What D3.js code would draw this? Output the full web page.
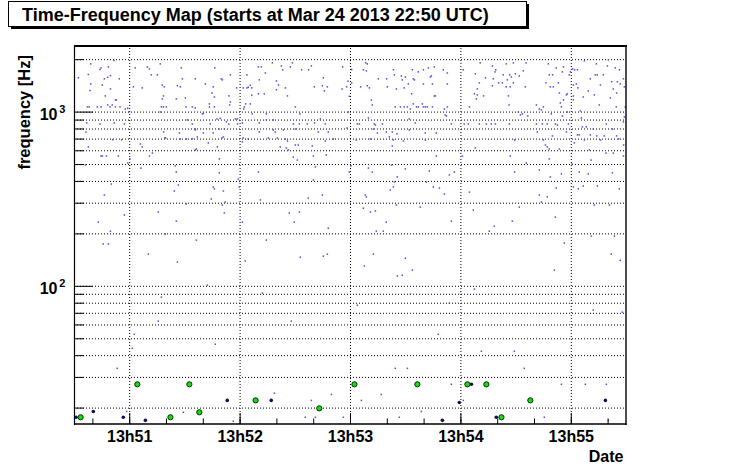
<!DOCTYPE html>
<html><head><meta charset="utf-8">
<script src="https://cdn.jsdelivr.net/npm/d3@7"></script>
<style>
body{margin:0;background:#fff;}
svg{display:block;font-family:"Liberation Sans",Arial,Helvetica,sans-serif;font-weight:bold;}
</style>
</head><body>
<svg id="c" width="746" height="472"></svg>
<script>
// ---------------- data ----------------
const chartTitle = "Time-Frequency Map (starts at Mar 24 2013 22:50 UTC)";
const yTitle = "frequency [Hz]";
const xTitle = "Date";
const baseUTC = Date.UTC(2013, 2, 24, 13, 50, 0);   // times below are seconds after 13:50:00
const timeRange = [30, 330];
const freqRange = [16.1, 2380];
const yTickValues = [20,30,40,50,60,70,80,90,100,200,300,400,500,600,700,800,900,1000,2000];
const yLabelValues = [100, 1000];

// small triggers: [seconds, Hz]
const bgPoints = [
[39.1,1879],[32.4,1563],[37.8,1633],[44.1,1745],[44.7,1783],[46.5,1542],[48.7,1805],[48.3,1574],[49.8,1610],[51.7,1964],
[54.6,1542],[39.1,1442],[45.4,1422],[38.7,1321],[49.8,1349],[47.0,1230],[52.5,1167],[53.0,1167],[37.3,1064],[38.3,1064],
[42.7,1064],[44.7,1064],[48.3,1092],[49.6,1064],[50.8,1092],[52.5,1064],[55.0,1064],[57.9,1035],[59.2,1045],[59.7,991],
[36.9,861],[44.1,849],[51.9,861],[57.4,849],[36.5,764],[51.0,690],[55.9,690],[37.8,627],[44.7,556],[45.4,556],
[47.6,556],[54.1,556],[36.2,494],[60.4,535],[59.2,507],[66.1,652],[67.1,627],[71.0,556],[72.6,578],[66.4,474],
[50.3,384],[63.3,1783],[69.9,1805],[71.0,1759],[72.0,1626],[75.3,1626],[76.9,1879],[62.3,1387],[67.1,1368],[78.0,1422],
[79.1,1387],[78.6,1230],[78.0,1183],[77.5,1064],[78.6,1064],[80.2,1064],[76.9,995],[86.2,1406],[87.8,1387],[85.6,1183],
[90.5,1199],[88.9,1542],[88.3,1783],[95.9,1542],[101.4,1442],[105.7,1387],[105.0,1279],[106.3,1213],[106.5,1783],[110.1,1542],
[110.6,1521],[115.0,1626],[114.2,1230],[115.0,1137],[114.6,1092],[90.9,1064],[94.3,1064],[95.9,1050],[103.6,1107],[103.6,1064],
[106.3,1064],[99.8,970],[100.3,977],[91.6,896],[94.3,849],[95.9,794],[104.1,849],[107.7,908],[109.5,915],[112.8,873],
[114.1,849],[117.7,908],[118.8,908],[118.9,849],[78.7,764],[87.3,754],[95.9,785],[100.3,754],[105.7,754],[108.8,794],
[111.7,794],[79.3,706],[79.8,706],[87.8,697],[91.1,697],[94.3,697],[97.0,715],[103.0,661],[107.9,627],[110.4,706],
[111.2,715],[96.5,610],[95.9,603],[85.1,488],[85.6,450],[109.0,535],[109.0,445],[105.7,369],[106.3,360],[86.7,379],
[119.3,410],[119.9,369],[118.4,1368],[122.0,1368],[124.0,1368],[124.7,1380],[125.8,1416],[126.6,1368],[124.0,1626],[130.2,1805],
[131.8,1805],[134.0,1667],[137.8,1905],[142.7,1829],[143.4,1738],[147.6,1805],[148.7,1905],[153.7,1738],[157.5,1738],[159.0,1829],
[130.7,1521],[126.6,1241],[130.2,1265],[133.4,1265],[140.0,1500],[141.1,1422],[140.0,1334],[144.9,1368],[146.0,1230],[160.6,1387],
[165.0,1406],[166.1,1315],[167.7,1387],[165.5,1563],[123.3,1107],[122.6,1064],[125.8,1107],[122.2,1035],[126.9,970],[134.5,970],
[150.3,1064],[152.8,970],[121.5,861],[130.7,861],[134.5,896],[138.3,896],[149.2,849],[152.5,849],[156.8,849],[160.8,861],
[163.9,908],[166.6,849],[130.7,764],[138.3,785],[139.4,764],[143.8,785],[150.3,794],[162.8,764],[168.2,764],[122.0,706],
[124.7,697],[121.5,670],[135.6,706],[140.5,706],[144.9,697],[146.0,678],[150.3,643],[151.9,643],[159.5,635],[166.6,678],
[171.0,697],[142.1,627],[145.4,618],[146.5,603],[149.2,548],[151.4,527],[160.1,556],[167.1,564],[130.2,450],[161.2,481],
[160.1,405],
[176.0,1805],[175.7,1349],[178.2,1387],[178.9,1494],[180.9,1745],[180.9,1462],[179.6,1225],[188.5,1905],[189.4,1879],[187.3,1738],
[188.9,1714],[185.8,1387],[189.4,1406],[190.5,1368],[191.6,1163],[192.1,1092],[195.4,1542],[199.9,1542],[200.3,1387],[203.6,1738],
[204.1,1626],[205.2,1349],[207.9,1603],[208.4,1521],[209.5,1368],[210.1,1581],[211.7,1442],[213.9,1738],[214.4,1542],[215.0,1521],
[217.1,1690],[219.9,1738],[219.9,1442],[222.6,1783],[223.7,1581],[224.8,1442],[225.8,1805],[224.2,1603],[225.8,1230],[226.4,1230],
[230.7,1738],[232.9,1667],[232.9,1442],[204.6,1064],[207.4,1064],[209.5,1064],[211.2,1064],[212.8,1035],[214.4,1107],[216.1,1064],
[217.1,1064],[219.3,1107],[219.9,1064],[220.9,1064],[222.0,1064],[224.8,1064],[231.3,1035],[232.9,1064],[231.8,957],[232.4,944],
[213.5,1265],[179.1,995],[178.4,805],[184.0,849],[185.1,849],[190.0,920],[193.2,849],[193.8,838],[192.7,794],[197.6,849],
[212.2,908],[215.5,861],[194.9,754],[199.7,764],[203.0,764],[205.5,745],[212.2,785],[220.9,754],[226.9,754],[235.1,849],
[183.4,687],[191.1,697],[201.4,715],[203.6,687],[203.0,635],[209.0,678],[220.9,687],[226.9,556],[180.5,488],[179.6,449],
[190.0,474],[192.1,450],[202.6,494],[205.7,422],[210.1,469],[223.1,456],[236.7,450],[234.0,433],[204.1,394],[203.6,369],
[201.9,355],[221.5,394],[225.3,369],[228.6,364],[241.6,1738],[248.1,1648],[250.8,1905],[253.6,1563],[257.4,1829],[257.9,1542],
[259.2,1738],[258.8,1690],[260.8,1462],[263.3,1626],[264.9,1879],[265.5,1521],[266.8,1626],[268.8,1905],[267.7,1581],[269.9,1648],
[268.8,1462],[272.0,1603],[274.2,1714],[275.7,1905],[275.3,1387],[266.1,1230],[266.4,1092],[250.3,1462],[249.2,1349],[247.6,1265],
[249.2,1247],[248.7,1183],[252.6,1230],[257.4,1406],[262.8,1462],[264.9,1387],[267.1,1387],[281.3,1092],[282.9,1035],[284.0,1023],
[285.1,1064],[286.5,1462],[287.8,1879],[288.3,1626],[290.1,1626],[288.9,1387],[290.5,1387],[292.1,1783],[293.2,1462],[293.8,1279],
[294.3,1122],[296.0,1805],[295.4,1690],[296.0,1167],[294.9,1064],[297.6,1247],[298.1,1265],[299.2,1626],[244.9,1064],[271.5,995],
[272.6,957],[273.7,970],[276.6,944],[289.4,970],[295.4,944],[298.1,995],[242.1,849],[244.3,849],[250.3,849],[254.1,849],
[256.8,849],[259.0,849],[266.6,849],[281.3,849],[284.5,849],[287.2,849],[291.6,849],[292.7,838],[298.7,849],[269.5,687],
[285.1,687],[290.0,725],[281.8,764],[297.6,764],[248.1,618],[241.1,556],[267.1,556],[286.2,643],[287.2,627],[288.3,610],
[293.8,610],[288.3,535],[275.8,507],[269.5,450],[282.9,462],[288.9,422],[294.9,439],[292.1,364],[299.8,1690],[301.0,1759],
[302.1,1738],[303.6,1738],[307.4,1955],[301.4,1422],[303.0,1442],[303.9,1368],[301.4,1230],[301.4,1167],[306.8,1213],[309.5,1315],
[310.6,1542],[312.8,1247],[313.9,1879],[313.3,1626],[314.4,1626],[316.1,1422],[317.7,1626],[319.9,1829],[320.4,1982],[324.2,1783],
[326.4,1738],[322.2,1483],[323.1,1349],[325.3,1483],[324.9,1279],[326.9,1442],[328.6,1542],[329.1,1387],[321.5,1199],[315.5,1092],
[324.7,1064],[329.6,1064],[305.2,1009],[305.7,920],[306.3,817],[308.4,817],[312.2,794],[319.3,849],[322.7,794],[328.6,873],
[329.1,931],[303.6,735],[304.6,735],[307.4,687],[310.6,735],[314.1,725],[316.1,687],[318.2,725],[324.9,725],[326.0,697],
[301.9,661],[310.1,603],[319.1,578],[323.1,578],[328.7,643],[328.6,556],[311.0,527],[300.7,500],[304.6,450],[309.5,439],
[322.6,445],[301.4,369],[304.1,360],[306.8,374],[314.4,374],[326.4,360],
[46.5,332],[84.5,350],[104.6,315],[111.2,350],[110.6,291],[112.2,303],[111.7,262],[91.0,295],[75.8,265],[85.6,235],
[57.4,255],[43.2,232],[49.8,206],[45.9,174],[48.7,174],[70.4,152],[86.2,137],[96.5,183],[79.6,198],[131.3,311],
[157.3,319],[165.0,332],[147.0,262],[152.5,265],[149.7,232],[121.5,232],[168.2,214],[134.5,183],[123.1,139],[153.0,146],
[165.5,148],[167.7,152],[102.5,101],[132.4,90.8],[77.5,86.1],[75.8,62.7],[148.1,62.7],[62.8,52.7],[61.7,43.8],[106.8,46.2],
[188.3,332],[188.9,324],[231.3,336],[244.9,345],[282.9,332],[287.2,324],[284.0,303],[187.3,279],[191.1,265],[193.8,269],
[205.2,291],[218.2,283],[199.7,232],[235.1,235],[194.3,206],[198.1,206],[247.0,272],[272.0,283],[258.4,220],[268.2,235],
[255.7,206],[291.6,248],[192.7,152],[187.8,130],[210.1,144],[213.9,123],[205.7,114],[208.4,115],[296.5,176],[291.1,123],
[312.8,291],[321.0,291],[311.2,193],[323.7,193],[322.0,152],[326.9,140],[247.6,95.7],[212.8,89.6],[184.0,77.4],[234.0,79.5],
[312.2,72.5],[328.0,70.6],[228.0,52.7],[251.4,42.1],[269.3,42.1],
[53.5,33.6],[58.6,19.0],[89.4,18.8],[116.6,16.7],[138.9,24.2],[155.7,17.6],[159.0,22.0],[161.2,17.6],[169.9,23.8],[176.4,17.6],
[204.6,33.6],[211.2,33.6],[274.7,33.6],[186.2,22.0],[197.0,23.8],[206.8,17.6],[218.8,19.0],[235.1,27.2],[241.6,22.0],[285.6,17.6],
[294.9,27.2],[307.9,27.2],[319.3,27.2],[320.4,16.9]
];

// medium triggers (dark dots): [seconds, Hz]
const navyPoints = [
[31.1,17.6],[40.5,19.0],[56.8,17.6],[68.8,16.9],[113.3,22.0],[137.2,22.0],
[239.4,21.4],[230.2,16.9],[246.0,27.2],[259.5,17.6],[318.8,22.0]
];

// loud triggers (green circles): [seconds, Hz]
const greenPoints = [
[33.6,17.6],[64.4,27.2],[92.7,27.2],[82.4,17.6],[98.1,18.8],[128.7,22.0],[163.3,19.8],
[182.4,27.2],[216.6,27.2],[243.8,27.2],[254.1,27.2],[262.3,17.6],[278.0,22.0]
];

// ---------------- drawing ----------------
const svg = d3.select("#c");
const L = 74, R = 626, T = 46, B = 424;
const toDate = s => new Date(baseUTC + s * 1000);

const x = d3.scaleUtc().domain(timeRange.map(toDate)).range([L, R]);
const y = d3.scaleLog().domain(freqRange).range([B, T]);

// grid
const gridY = svg.append("g").attr("transform", `translate(${L},0)`)
  .call(d3.axisLeft(y).tickValues(yTickValues).tickSize(-(R - L)).tickFormat(""));
gridY.select(".domain").remove();
gridY.selectAll("line").attr("stroke", "#000").attr("stroke-dasharray", "1,2");

const minuteTicks = x.ticks(d3.utcMinute.every(1));
const gridX = svg.append("g").attr("transform", `translate(0,${B})`)
  .call(d3.axisBottom(x).tickValues(minuteTicks).tickSize(-(B - T)).tickFormat(""));
gridX.select(".domain").remove();
gridX.selectAll("line").attr("stroke", "#000").attr("stroke-dasharray", "1,2");

// points
const plot = svg.append("g");
plot.selectAll("rect.bg").data(bgPoints).join("rect").attr("class", "bg")
  .attr("x", d => x(toDate(d[0])) - 0.75).attr("y", d => y(d[1]) - 0.75)
  .attr("width", 1.5).attr("height", 1.5).attr("fill", "#5a48e0");
plot.selectAll("circle.nv").data(navyPoints).join("circle").attr("class", "nv")
  .attr("cx", d => x(toDate(d[0]))).attr("cy", d => y(d[1])).attr("r", 1.8)
  .attr("fill", "#10105a");
plot.selectAll("circle.gr").data(greenPoints).join("circle").attr("class", "gr")
  .attr("cx", d => x(toDate(d[0]))).attr("cy", d => y(d[1])).attr("r", 2.6)
  .attr("fill", "#10e010").attr("stroke", "#003000").attr("stroke-width", 1);

// x ticks (minor, major) pointing up
const xMinor = svg.append("g").attr("transform", `translate(0,${B})`)
  .call(d3.axisBottom(x).ticks(d3.utcSecond.every(20)).tickSize(-5.5).tickSizeOuter(0).tickFormat(""));
xMinor.select(".domain").remove();
const xMajor = svg.append("g").attr("transform", `translate(0,${B})`)
  .call(d3.axisBottom(x).tickValues(minuteTicks).tickSize(-11).tickSizeOuter(0)
        .tickFormat(d3.utcFormat("%Hh%M")));
xMajor.select(".domain").remove();
xMajor.attr("font-family", null).attr("font-size", null);
xMajor.selectAll("text").attr("y", 17.7).attr("dy", null)
  .style("font-size", "16px").style("font-weight", "bold").attr("fill", "#000");

// y ticks pointing right
const yAx = svg.append("g").attr("transform", `translate(${L},0)`)
  .call(d3.axisLeft(y).tickValues(yTickValues).tickSizeOuter(0).tickFormat("")
        .tickSize(0));
yAx.select(".domain").remove();
yAx.selectAll(".tick line").attr("x2", d => yLabelValues.includes(d) ? 19 : 10);

// y labels 10^n
const ylab = svg.append("g");
yLabelValues.forEach(v => {
  const t = ylab.append("text").attr("y", y(v) + 8.3).attr("x", 57.5)
    .attr("text-anchor", "end").style("font-size", "16px").text("10");
  ylab.append("text").attr("x", 59.2).attr("y", y(v) + 1)
    .style("font-size", "11px").text(String(Math.round(Math.log10(v))));
});

// frame
svg.append("rect").attr("x", L).attr("y", T - 1).attr("width", R - L + 1).attr("height", 2).attr("fill", "#000");
svg.append("line").attr("x1", L + 0.5).attr("x2", L + 0.5).attr("y1", T).attr("y2", B + 1).attr("stroke", "#000").attr("stroke-width", 1.2);
svg.append("line").attr("x1", R).attr("x2", R).attr("y1", T).attr("y2", B + 1).attr("stroke", "#000").attr("stroke-width", 1.4);
svg.append("line").attr("x1", L).attr("x2", R + 0.7).attr("y1", B).attr("y2", B).attr("stroke", "#000").attr("stroke-width", 1.4);

// axis titles
svg.append("text").attr("transform", "translate(29.5,55) rotate(-90)")
  .attr("text-anchor", "end").style("font-size", "16.5px").text(yTitle);
svg.append("text").attr("x", 623.5).attr("y", 461.7).attr("text-anchor", "end")
  .style("font-size", "16px").text(xTitle);

// title box with shadow
svg.append("rect").attr("x", 11).attr("y", 4).attr("width", 518).attr("height", 25).attr("fill", "#000");
svg.append("rect").attr("x", 8.5).attr("y", 1.5).attr("width", 518).attr("height", 25)
  .attr("fill", "#fff").attr("stroke", "#000").attr("stroke-width", 1);
svg.append("text").attr("x", 22).attr("y", 20.7).style("font-size", "18px").text(chartTitle);
</script>
</body></html>
